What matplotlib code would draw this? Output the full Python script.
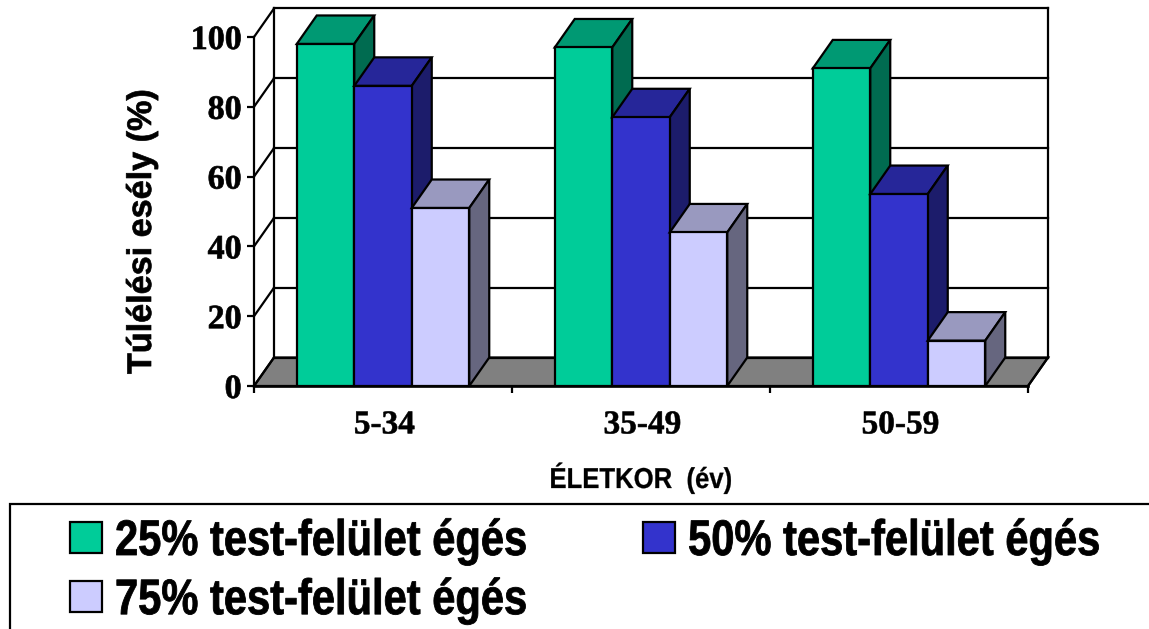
import numpy as np
import matplotlib
matplotlib.use("Agg")
import matplotlib.pyplot as plt
from matplotlib.patches import Patch, Rectangle
from matplotlib.patheffects import AbstractPathEffect
from matplotlib.ticker import FixedLocator, NullFormatter
from matplotlib.transforms import Affine2D

W, H = 1149, 629

age_groups = ["5-34", "35-49", "50-59"]
burn_25 = [98, 97, 91]
burn_50 = [86, 77, 55]
burn_75 = [51, 44, 13]
series_labels = ["25% test-felület égés", "50% test-felület égés", "75% test-felület égés"]
yticks = [0, 20, 40, 60, 80, 100]

front_colors = ["#00CC99", "#3333CC", "#CCCCFF"]
top_colors = ["#009973", "#262699", "#9999BF"]
side_colors = ["#006B50", "#1C1C6B", "#66667F"]

SERIF = ["Liberation Serif", "DejaVu Serif"]
SANS = ["Liberation Sans", "DejaVu Sans"]


class Heavy(AbstractPathEffect):
    # no narrow font here, so stretch glyphs upward from the baseline and thicken them
    def __init__(self, k=1.0, stroke=0.5, shift=0):
        super().__init__()
        self.k = k
        self.stroke = stroke
        self.shift = shift

    def draw_path(self, renderer, gc, tpath, affine, rgbFace=None):
        gc0 = renderer.new_gc()
        gc0.copy_properties(gc)
        gc0.set_linewidth(self.stroke)
        gc0.set_foreground("k")
        tr = Affine2D().scale(1, self.k) + affine + Affine2D().translate(0, self.shift)
        renderer.draw_path(gc0, tpath, tr, rgbFace)
        gc0.restore()


def main():
    fig = plt.figure(figsize=(W / 100, H / 100), dpi=100)
    ax = fig.add_axes([254 / W, 1 - 386 / H, 774 / W, 349 / H])
    ax.set_xlim(-0.5, 2.5)
    ax.set_ylim(0, 100)
    for s in ax.spines.values():
        s.set_visible(False)

    # depth of the fake 3d, in data units
    dx = 20 / 258
    dy = 28.5 / 3.49
    x0, x1 = -0.5, 2.5
    lw = 1.6

    # floor and walls
    ax.fill([x0, x1, x1 + dx, x0 + dx], [0, 0, dy, dy], fc="#808080", ec="k", lw=lw,
            clip_on=False, zorder=1)
    for v in yticks:
        ax.plot([x0 + dx, x1 + dx], [v + dy, v + dy], color="k", lw=lw, clip_on=False, zorder=1.5)
        ax.plot([x0, x0 + dx], [v, v + dy], color="k", lw=lw, clip_on=False, zorder=1.5)
    ax.plot([x0 + dx, x0 + dx], [dy, 100 + dy], color="k", lw=lw, clip_on=False, zorder=1.5)
    ax.plot([x1 + dx, x1 + dx], [dy, 100 + dy], color="k", lw=lw, clip_on=False, zorder=1.5)
    ax.plot([x0, x0], [0, 100], color="k", lw=lw, clip_on=False, zorder=1.5)
    ax.plot([x1, x1 + dx], [0, dy], color="k", lw=lw, clip_on=False, zorder=1.5)

    # bars
    w = 57.5 / 258
    pos = np.arange(len(age_groups))
    for i, vals in enumerate([burn_25, burn_50, burn_75]):
        for p, v in zip(pos, vals):
            left = p + (i - 1.5) * w
            right = left + w
            z = 3 + p + i * 0.1
            ax.fill([left, right, right + dx, left + dx], [v, v, v + dy, v + dy],
                    fc=top_colors[i], ec="k", lw=lw, clip_on=False, zorder=z)
            ax.fill([right, right + dx, right + dx, right], [0, dy, v + dy, v],
                    fc=side_colors[i], ec="k", lw=lw, clip_on=False, zorder=z)
            ax.bar(left, v, width=w, align="edge", color=front_colors[i], edgecolor="k",
                   linewidth=lw, zorder=z + 0.01)
    ax.plot([x0, x1], [0, 0], color="k", lw=lw + 0.3, clip_on=False, zorder=10)

    ax.set_yticks(yticks)
    ax.set_yticklabels([str(v) for v in yticks], family=SERIF, fontweight="bold", fontsize=24.5)
    ax.tick_params(axis="y", length=5, width=lw, pad=4)
    for t in ax.get_yticklabels():
        t.set_path_effects([Heavy(stroke=0.5)])

    ax.xaxis.set_major_locator(FixedLocator([-0.5, 0.5, 1.5, 2.5]))
    ax.xaxis.set_major_formatter(NullFormatter())
    ax.tick_params(axis="x", length=5, width=lw)
    for p, name in zip(pos, age_groups):
        a = ax.annotate(name, (p, 0), xytext=(1, -28), textcoords="offset points", ha="center",
                        va="center", family=SERIF, fontweight="bold", fontsize=24)
        a.set_path_effects([Heavy(stroke=0.4)])

    xlab = fig.text(641 / W, 1 - 479 / H, "ÉLETKOR  (év)", ha="center", va="center", family=SANS,
                    fontweight="bold", fontsize=18.5)
    xlab.set_path_effects([Heavy(1.12, 0.2)])
    ylab = fig.text(142.5 / W, 1 - 232 / H, "Túlélési esély (%)", rotation=90, ha="center",
                    va="center", family=SANS, fontweight="bold", fontsize=24.6)
    ylab.set_path_effects([Heavy(stroke=0.5)])

    # legend box runs off the right and bottom of the picture
    fig.add_artist(Rectangle((9.5 / W, -0.05), 1.2, 1.05 - 504 / H, transform=fig.transFigure,
                             fc="none", ec="k", lw=1.6))
    # filled column by column, so 25 and 75 share the first one
    order = [0, 2, 1]
    handles = [Patch(fc=front_colors[i], ec="k", lw=1.6) for i in order]
    leg = fig.legend(handles, [series_labels[i] for i in order], ncol=2, frameon=False,
                     loc="upper left", bbox_to_anchor=(70 / W, 1 - 521 / H), borderpad=0,
                     borderaxespad=0, prop={"family": SANS, "weight": "bold", "size": 30},
                     handlelength=0.77, handleheight=0.77, handletextpad=0.31,
                     columnspacing=2.78, labelspacing=0.46)
    for t in leg.get_texts():
        t.set_path_effects([Heavy(1.2, 0.6, shift=-3)])

    fig.savefig("out.png", dpi=100)
    plt.close(fig)


if __name__ == "__main__":
    main()
